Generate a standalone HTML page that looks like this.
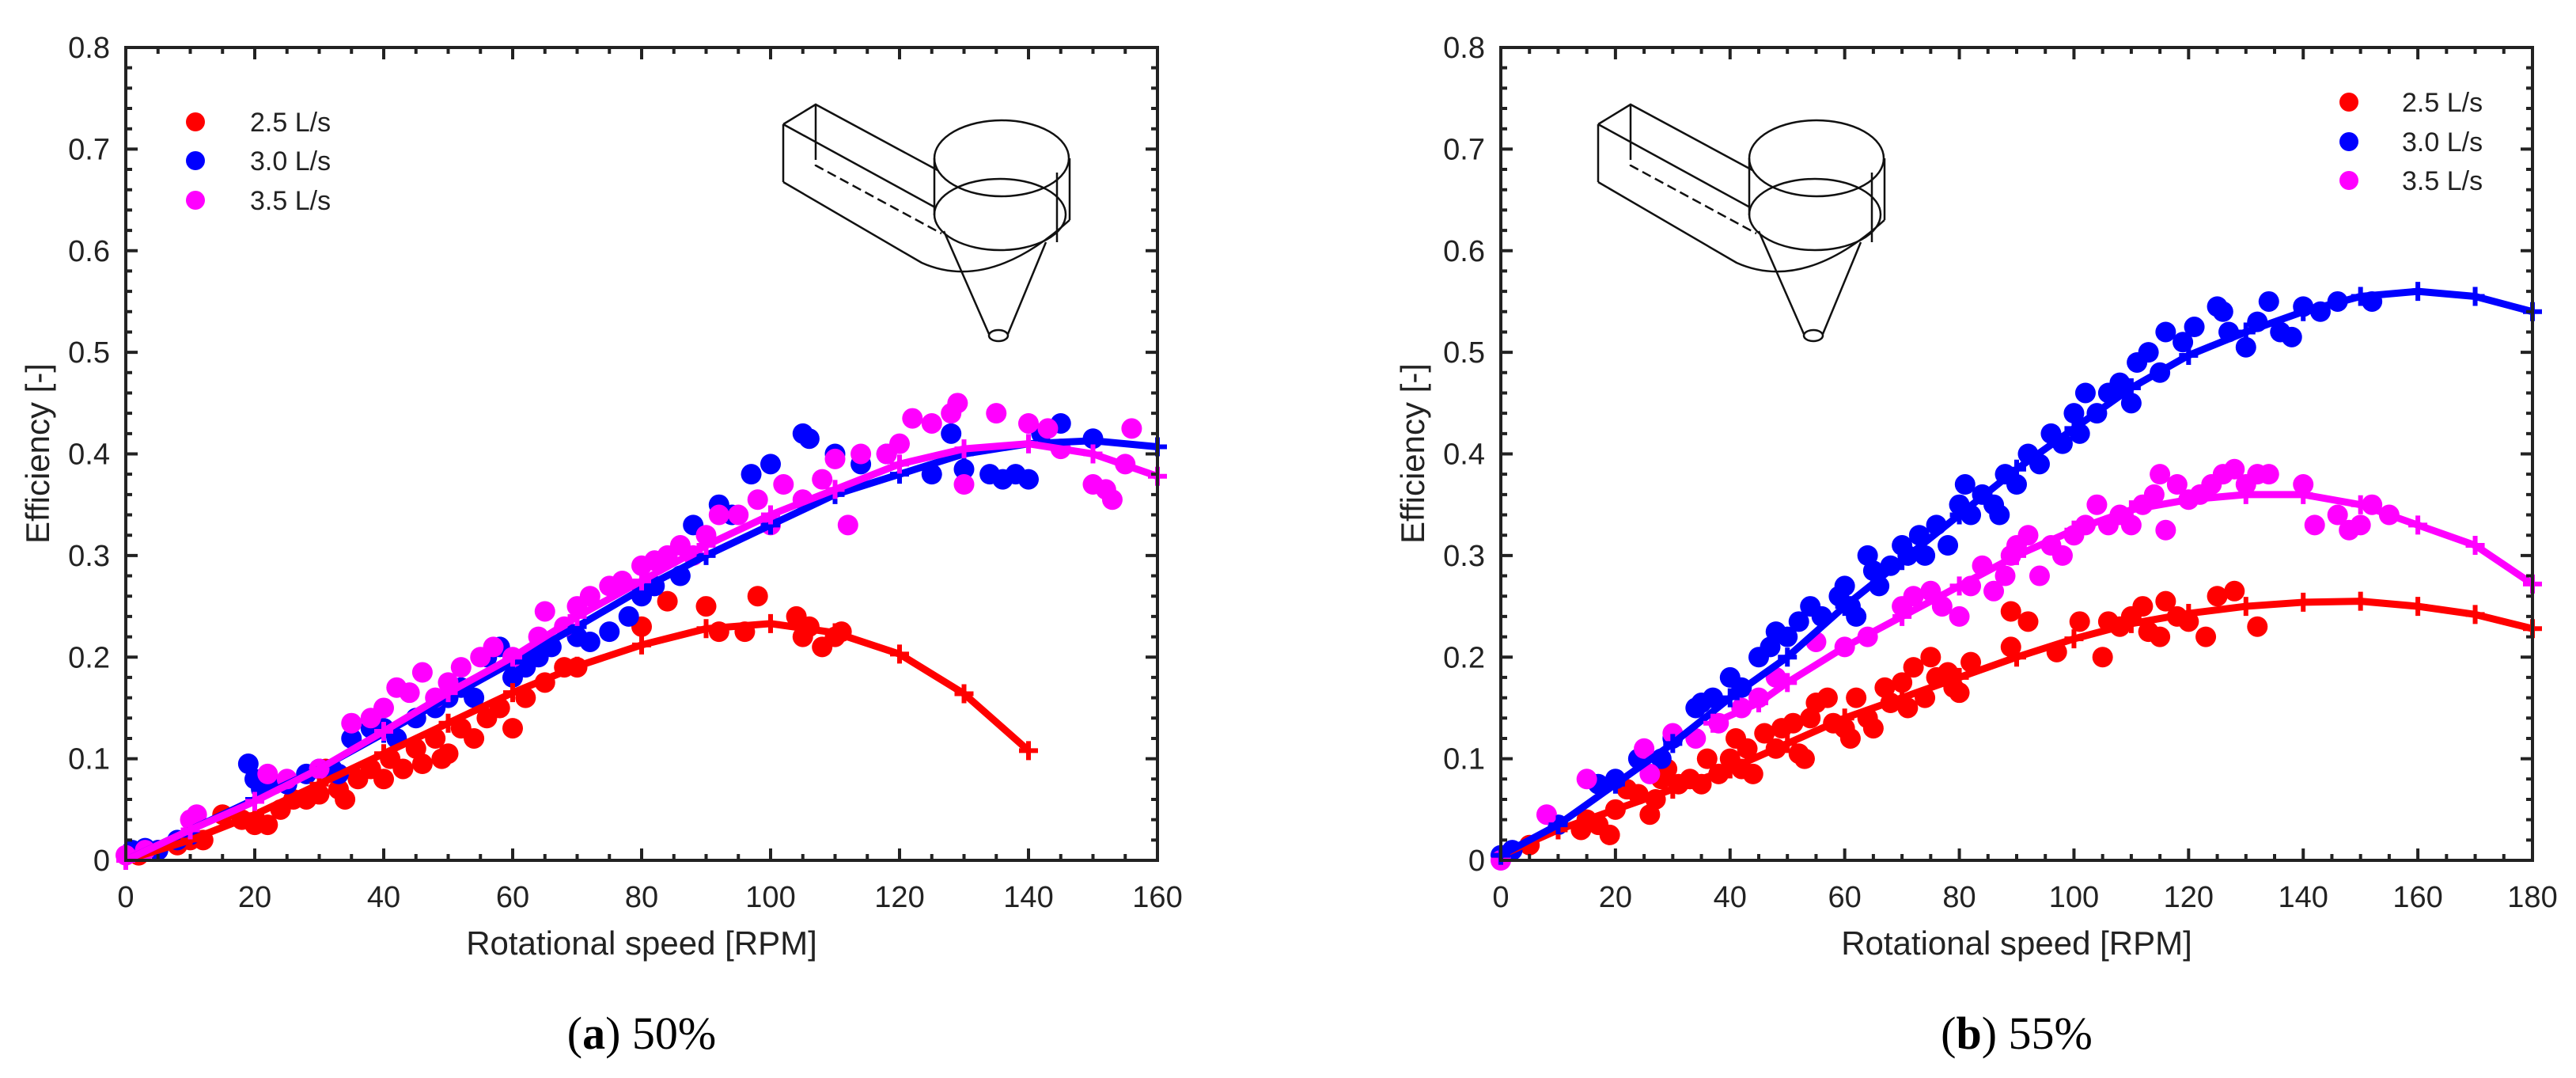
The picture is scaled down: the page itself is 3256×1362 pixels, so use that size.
<!DOCTYPE html>
<html><head><meta charset="utf-8"><style>
html,body{margin:0;padding:0;background:#fff;}
svg{display:block;}
text{font-family:"Liberation Sans",Arial,sans-serif;fill:#222;}
</style></head><body>
<svg id="fig" width="3256" height="1362" viewBox="0 0 3256 1362" xmlns="http://www.w3.org/2000/svg">
<g id="sketchA" fill="none" stroke="#111" stroke-width="2.5">
  <path d="M990,157 L1031,132 L1185,215 M990,157 L990,230 M990,157 L1182,262 M1031,132 L1031,190"/>
  <path d="M1031,190 L1031,209 L1190,295" stroke-dasharray="12,6"/>
  <path d="M990,230 L1165,332 Q1250,370 1352,278"/>
  <ellipse cx="1266" cy="200" rx="85" ry="48"/>
  <ellipse cx="1264" cy="271" rx="83" ry="45"/>
  <path d="M1181,200 L1181,272 M1352,200 L1352,278 M1336,218 L1336,306"/>
  <path d="M1193,292 L1250,422 M1322,306 L1274,422"/>
  <ellipse cx="1262" cy="424" rx="12" ry="7"/>
</g>
<use href="#sketchA" x="1030" y="0"/>
</svg>
<script>
// ---------- Panel (a) data ----------
const aXTicks = [0,20,40,60,80,100,120,140,160];
const yTicks = [0,0.1,0.2,0.3,0.4,0.5,0.6,0.7,0.8];
const yTickLabels = ["0","0.1","0.2","0.3","0.4","0.5","0.6","0.7","0.8"];
const seriesNames = ["2.5 L/s","3.0 L/s","3.5 L/s"];
const seriesColors = ["#ff0000","#0000ff","#ff00ff"];

const aRedFitX = [0,10,20,30,40,50,60,70,80,90,100,110,120,130,140];
const aRedFitY = [0,0.02,0.045,0.075,0.105,0.135,0.165,0.191,0.212,0.228,0.233,0.224,0.203,0.164,0.108];
const aBlueFitX = [0,10,20,30,40,50,60,70,80,90,100,110,120,130,140,150,160];
const aBlueFitY = [0,0.03,0.06,0.09,0.125,0.16,0.195,0.23,0.267,0.3,0.33,0.36,0.38,0.4,0.41,0.413,0.407];
const aMagFitX = [0,10,20,30,40,50,60,70,80,90,100,110,120,130,140,150,160];
const aMagFitY = [0,0.03,0.058,0.09,0.127,0.165,0.2,0.24,0.275,0.31,0.34,0.365,0.39,0.405,0.41,0.4,0.378];

const aRedPts = [[2,0.005],[5,0.01],[8,0.015],[10,0.02],[12,0.02],[15,0.045],[18,0.04],[20,0.035],[22,0.035],[24,0.05],[26,0.06],[28,0.06],[30,0.065],[31,0.09],[33,0.07],[34,0.06],[36,0.08],[38,0.09],[40,0.08],[41,0.1],[43,0.09],[45,0.11],[46,0.095],[48,0.12],[49,0.1],[50,0.105],[52,0.13],[54,0.12],[56,0.14],[58,0.15],[60,0.13],[62,0.16],[65,0.175],[68,0.19],[70,0.19],[80,0.23],[84,0.255],[90,0.25],[92,0.225],[96,0.225],[98,0.26],[104,0.24],[105,0.22],[106,0.23],[108,0.21],[110,0.22],[111,0.225]];
const aBluePts = [[1,0.01],[3,0.012],[5,0.01],[8,0.02],[10,0.025],[19,0.095],[20,0.08],[21,0.07],[23,0.075],[25,0.075],[28,0.085],[30,0.09],[32,0.09],[33,0.085],[35,0.12],[38,0.13],[40,0.13],[42,0.12],[45,0.14],[48,0.15],[50,0.16],[52,0.17],[54,0.16],[56,0.2],[58,0.21],[60,0.18],[62,0.19],[64,0.2],[66,0.21],[70,0.22],[72,0.215],[75,0.225],[78,0.24],[80,0.26],[82,0.27],[86,0.28],[88,0.33],[92,0.35],[94,0.34],[97,0.38],[100,0.39],[105,0.42],[106,0.415],[110,0.4],[114,0.39],[118,0.4],[125,0.38],[128,0.42],[130,0.385],[134,0.38],[136,0.375],[138,0.38],[140,0.375],[142,0.42],[145,0.43],[150,0.415]];
const aMagPts = [[0,0.005],[3,0.01],[10,0.04],[11,0.045],[22,0.085],[25,0.08],[30,0.09],[35,0.135],[38,0.14],[40,0.15],[42,0.17],[44,0.165],[46,0.185],[48,0.16],[50,0.175],[52,0.19],[55,0.2],[57,0.21],[60,0.2],[64,0.22],[65,0.245],[68,0.23],[70,0.25],[72,0.26],[75,0.27],[77,0.275],[80,0.29],[82,0.295],[84,0.3],[86,0.31],[88,0.3],[90,0.32],[92,0.34],[95,0.34],[98,0.355],[100,0.33],[102,0.37],[105,0.355],[108,0.375],[110,0.395],[112,0.33],[114,0.4],[118,0.4],[120,0.41],[122,0.435],[125,0.43],[128,0.44],[129,0.45],[130,0.37],[135,0.44],[140,0.43],[143,0.425],[145,0.405],[150,0.37],[152,0.365],[153,0.355],[155,0.39],[156,0.425]];

// ---------- Panel (b) data ----------
const bXTicks = [0,20,40,60,80,100,120,140,160,180];
const bRedFitX = [0,10,20,30,40,50,60,70,80,90,100,110,120,130,140,150,160,170,180];
const bRedFitY = [0.005,0.03,0.05,0.07,0.09,0.115,0.14,0.16,0.18,0.2,0.218,0.233,0.243,0.25,0.254,0.255,0.25,0.242,0.228];
const bBlueFitX = [0,10,20,30,40,50,60,70,80,90,100,110,120,130,140,150,160,170,180];
const bBlueFitY = [0.005,0.035,0.075,0.115,0.16,0.2,0.25,0.295,0.34,0.385,0.425,0.465,0.497,0.52,0.54,0.555,0.56,0.555,0.54];
const bMagFitX = [37,45,50,60,70,80,90,100,110,120,130,140,150,160,170,180];
const bMagFitY = [0.135,0.155,0.175,0.21,0.24,0.27,0.3,0.325,0.345,0.355,0.36,0.36,0.35,0.33,0.31,0.272];

const bRedPts = [[5,0.015],[14,0.03],[15,0.04],[17,0.035],[19,0.025],[20,0.05],[22,0.07],[24,0.065],[26,0.045],[27,0.06],[28,0.08],[29,0.09],[31,0.075],[33,0.08],[35,0.075],[36,0.1],[38,0.085],[40,0.1],[41,0.12],[42,0.09],[43,0.11],[44,0.085],[46,0.125],[48,0.11],[49,0.13],[51,0.135],[52,0.105],[53,0.1],[54,0.14],[55,0.155],[57,0.16],[58,0.135],[60,0.13],[61,0.12],[62,0.16],[64,0.14],[65,0.13],[67,0.17],[68,0.155],[70,0.175],[71,0.15],[72,0.19],[74,0.16],[75,0.2],[76,0.18],[78,0.185],[79,0.17],[80,0.165],[82,0.195],[89,0.245],[89,0.21],[92,0.235],[97,0.205],[101,0.235],[105,0.2],[106,0.235],[108,0.23],[110,0.24],[112,0.25],[113,0.225],[115,0.22],[116,0.255],[118,0.24],[120,0.235],[123,0.22],[125,0.26],[128,0.265],[132,0.23]];
const bBluePts = [[0,0.005],[2,0.01],[10,0.035],[17,0.075],[20,0.08],[24,0.1],[28,0.1],[30,0.12],[34,0.15],[35,0.155],[37,0.16],[40,0.18],[42,0.17],[45,0.2],[47,0.21],[48,0.225],[50,0.22],[52,0.235],[54,0.25],[56,0.24],[59,0.26],[60,0.27],[61,0.25],[62,0.24],[64,0.3],[65,0.285],[66,0.27],[68,0.29],[70,0.31],[71,0.3],[73,0.32],[74,0.3],[76,0.33],[78,0.31],[80,0.35],[81,0.37],[82,0.34],[84,0.36],[86,0.35],[87,0.34],[88,0.38],[90,0.37],[92,0.4],[94,0.39],[96,0.42],[98,0.41],[100,0.44],[101,0.42],[102,0.46],[104,0.44],[106,0.46],[108,0.47],[110,0.45],[111,0.49],[113,0.5],[115,0.48],[116,0.52],[119,0.51],[121,0.525],[125,0.545],[126,0.54],[127,0.52],[130,0.505],[132,0.53],[134,0.55],[136,0.52],[138,0.515],[140,0.545],[143,0.54],[146,0.55],[152,0.55]];
const bMagPts = [[0,0],[8,0.045],[15,0.08],[25,0.11],[26,0.085],[30,0.125],[34,0.12],[38,0.135],[42,0.15],[45,0.16],[48,0.18],[55,0.215],[60,0.21],[64,0.22],[70,0.25],[72,0.26],[75,0.265],[77,0.25],[80,0.24],[82,0.27],[84,0.29],[86,0.265],[88,0.28],[89,0.3],[90,0.31],[92,0.32],[94,0.28],[96,0.31],[98,0.3],[100,0.32],[102,0.33],[104,0.35],[106,0.33],[108,0.34],[110,0.33],[112,0.35],[114,0.36],[115,0.38],[116,0.325],[118,0.37],[120,0.355],[122,0.36],[124,0.37],[126,0.38],[128,0.385],[130,0.37],[132,0.38],[134,0.38],[140,0.37],[142,0.33],[146,0.34],[148,0.325],[150,0.33],[152,0.35],[155,0.34]];

const NS = "http://www.w3.org/2000/svg";
const svg = document.getElementById('fig');
function mk(tag, attrs, parent){
  const e = document.createElementNS(NS, tag);
  for (const k in attrs) e.setAttribute(k, attrs[k]);
  (parent||svg).appendChild(e);
  return e;
}

function panel(cfg){
  const g = mk('g', {});
  
  
  const L=cfg.left, R=cfg.right, T=60, B=1087;
  const xs = v => L + (v - 0) / cfg.xmax * (R - L);
  const ys = v => B - v / 0.8 * (B - T);

  const sets = [[cfg.redPts,0],[cfg.bluePts,1],[cfg.magPts,2]];
  sets.forEach(([pts,ci])=>{
    const sg = mk('g', {fill: seriesColors[ci]}, g);
    
    
    pts.forEach(p=>{
      const c = mk('circle', {cx: xs(p[0]), cy: ys(p[1]), r: 13}, sg);
      
      
    });
  });
  const fits = [[cfg.redFitX,cfg.redFitY,0],[cfg.blueFitX,cfg.blueFitY,1],[cfg.magFitX,cfg.magFitY,2]];
  fits.forEach(([fx,fy,ci])=>{
    let d = '';
    fx.forEach((x,i)=>{ d += (i?'L':'M') + xs(x) + ',' + ys(fy[i]); });
    const p = mk('path', {d: d, fill:'none', stroke: seriesColors[ci], 'stroke-width': 9, 'stroke-linejoin':'round'}, g);
    
    
    fx.forEach((x,i)=>{
      const cx = xs(x), cy = ys(fy[i]);
      const m = mk('path', {d:`M${cx-12},${cy}H${cx+12}M${cx},${cy-12}V${cy+12}`, stroke: seriesColors[ci], 'stroke-width':6}, g);
      
      
    });
  });

  const fr = mk('rect', {x:L, y:T, width:R-L, height:B-T, fill:'none', stroke:'#222', 'stroke-width':4}, g);
  
  
  let td = '';
  for (let v=0; v<=cfg.xmax+0.001; v+=5){
    const x = xs(v), len = (Math.round(v)%20===0)?15:8;
    td += `M${x},${B}V${B-len}M${x},${T}V${T+len}`;
  }
  for (let k=0; k<=40; k++){
    const y = ys(k*0.02), len = (k%5===0)?15:8;
    td += `M${L},${y}H${L+len}M${R},${y}H${R-len}`;
  }
  const tk = mk('path', {d: td, stroke:'#222', 'stroke-width':4}, g);
  
  

  cfg.xTicks.forEach(v=>{
    const t = mk('text', {x: xs(v), y: 1146, 'font-size': 38, 'text-anchor':'middle'}, g);
    t.textContent = String(v);
    
    
  });
  yTicks.forEach((v,i)=>{
    const t = mk('text', {x: L-20, y: ys(v)+13, 'font-size': 38, 'text-anchor':'end'}, g);
    t.textContent = yTickLabels[i];
    
    
  });
  const xt = mk('text', {x:(L+R)/2, y:1206, 'font-size':42, 'text-anchor':'middle'}, g);
  xt.textContent = 'Rotational speed [RPM]';
  
  
  const yt = mk('text', {x:0, y:0, 'font-size':42, 'text-anchor':'middle', transform:`translate(${cfg.yTitleX},573) rotate(-90)`}, g);
  yt.textContent = 'Efficiency [-]';
  
  

  const lg = mk('g', {}, g);
  
  
  seriesNames.forEach((n,i)=>{
    const y = cfg.legY[i];
    const c = mk('circle', {cx: cfg.legMX, cy: y, r: 12, fill: seriesColors[i]}, lg);
    
    
    const t = mk('text', {x: cfg.legTX, y: y+12, 'font-size': 34}, lg);
    t.textContent = n;
    
    
  });

  const cap = mk('text', {x:(L+R)/2, y:1325, 'font-size':58, 'text-anchor':'middle', style:'font-family:"Liberation Serif",serif;fill:#000'}, g);
  cap.innerHTML = `(<tspan font-weight="bold">${cfg.capLetter}</tspan>) ${cfg.capText}`;
  
  
}

panel({id:'panel-a', left:159, right:1463, xmax:160, xTicks:aXTicks,
  redPts:aRedPts, bluePts:aBluePts, magPts:aMagPts,
  redFitX:aRedFitX, redFitY:aRedFitY, blueFitX:aBlueFitX, blueFitY:aBlueFitY, magFitX:aMagFitX, magFitY:aMagFitY,
  yTitleX:62, legMX:247, legTX:316, legY:[154,203,253], capLetter:'a', capText:'50%'});
panel({id:'panel-b', left:1897, right:3201, xmax:180, xTicks:bXTicks,
  redPts:bRedPts, bluePts:bBluePts, magPts:bMagPts,
  redFitX:bRedFitX, redFitY:bRedFitY, blueFitX:bBlueFitX, blueFitY:bBlueFitY, magFitX:bMagFitX, magFitY:bMagFitY,
  yTitleX:1800, legMX:2969, legTX:3036, legY:[129,179,228], capLetter:'b', capText:'55%'});
</script>
</body></html>
